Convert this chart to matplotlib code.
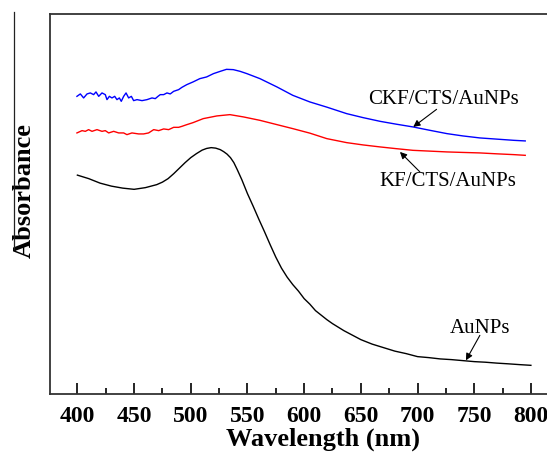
import matplotlib
matplotlib.use('Agg')
import matplotlib.pyplot as plt
from matplotlib.lines import Line2D
from matplotlib.ticker import MultipleLocator

plt.rcParams['font.family'] = ['Liberation Serif', 'DejaVu Serif']

# AuNPs (black)
wl_au = [400, 410, 420, 430, 440, 450, 460, 470, 475, 480, 485, 490, 495, 500, 505,
         510, 514, 518, 522, 526, 529, 532, 535, 538, 541, 545, 550, 555, 560, 565,
         570, 575, 580, 585, 590, 595, 600, 605, 610, 615, 620, 625, 630, 635, 640,
         650, 660, 670, 680, 690, 700, 710, 720, 730, 740, 750, 760, 770, 780, 790, 800]
abs_au = [2.185, 2.15, 2.105, 2.075, 2.055, 2.043, 2.06, 2.09, 2.115, 2.15, 2.2, 2.255,
          2.31, 2.36, 2.40, 2.435, 2.452, 2.46, 2.455, 2.44, 2.42, 2.395, 2.36, 2.31,
          2.24, 2.14, 2.00, 1.875, 1.745, 1.62, 1.49, 1.365, 1.255, 1.165, 1.09, 1.025,
          0.95, 0.895, 0.83, 0.785, 0.74, 0.70, 0.665, 0.63, 0.60, 0.54, 0.495, 0.46,
          0.425, 0.40, 0.37, 0.36, 0.347, 0.34, 0.33, 0.32, 0.314, 0.305, 0.298, 0.29,
          0.283]

# CKF/CTS/AuNPs (blue)
wl_ckf = [399.6, 402.6, 405.5, 408.5, 411.4, 414.3, 416.4, 418.8, 421.7, 424.6, 426.1,
          428.2, 430.5, 432.9, 434.9, 437, 438.7, 440.8, 442.9, 445.2, 447.6, 449.6,
          452.6, 457, 461.4, 465.8, 468.7, 471.1, 473.1, 476.1, 479, 481.9, 484.9, 489.3,
          492.2, 496.5, 502, 508, 514, 520, 526, 531.5, 537.5, 543.5, 549.5, 561, 576,
          590, 605, 620, 637.5, 652, 667, 681, 696, 711, 726, 740, 755, 770, 785, 795]
abs_ckf = [2.973, 2.997, 2.957, 2.997, 3.007, 2.99, 3.017, 2.973, 3.007, 2.99, 2.94,
           2.973, 2.957, 2.973, 2.94, 2.957, 2.923, 2.973, 3.007, 2.957, 2.973, 2.93,
           2.94, 2.93, 2.94, 2.957, 2.95, 2.973, 2.99, 2.99, 3.007, 2.997, 3.023, 3.04,
           3.063, 3.09, 3.117, 3.15, 3.167, 3.20, 3.223, 3.243, 3.24, 3.223, 3.20, 3.15,
           3.067, 2.983, 2.917, 2.865, 2.80, 2.76, 2.723, 2.695, 2.667, 2.633, 2.60,
           2.577, 2.557, 2.545, 2.533, 2.527]

# KF/CTS/AuNPs (red)
wl_kf = [399.6, 404.1, 407, 409.9, 412.9, 417.3, 421.7, 424.6, 427.6, 432, 436.4, 440.8,
         443.7, 448.1, 454, 458.4, 462.8, 467.3, 471.7, 476.1, 480.5, 484.9, 489.3, 492.2,
         496, 502, 511, 523, 534.5, 546.5, 561, 576, 590, 605, 620, 637.5, 652, 667, 681,
         696, 711, 726, 740, 755, 770, 785, 795]
abs_kf = [2.607, 2.63, 2.623, 2.64, 2.623, 2.64, 2.623, 2.63, 2.607, 2.623, 2.607, 2.607,
          2.59, 2.607, 2.597, 2.597, 2.607, 2.64, 2.63, 2.647, 2.64, 2.663, 2.663, 2.673,
          2.688, 2.71, 2.75, 2.777, 2.79, 2.767, 2.733, 2.69, 2.65, 2.605, 2.55, 2.51,
          2.487, 2.467, 2.45, 2.433, 2.425, 2.417, 2.412, 2.407, 2.398, 2.39, 2.383]

fig = plt.figure(figsize=(5.47, 4.56), dpi=100)
ax = fig.add_axes([0.0905, 0.1346, 0.9095, 0.8333])

ax.plot(wl_au, abs_au, color='black', lw=1.0)
ax.plot(wl_ckf, abs_ckf, color='#0000ff', lw=1.0)
ax.plot(wl_kf, abs_kf, color='#ff0000', lw=1.0)

ax.set_xlim(375.4, 814.2)
ax.set_ylim(0, 3.8)
ax.xaxis.set_major_locator(MultipleLocator(50))
ax.xaxis.set_minor_locator(MultipleLocator(25))
ax.set_yticks([])
ax.tick_params(axis='x', which='major', direction='in', length=8, width=1.2,
               labelsize=17, pad=8, colors='black')
ax.tick_params(axis='x', which='minor', direction='in', length=4.5, width=1.2)
for lab in ax.get_xticklabels():
    lab.set_fontweight('bold')
ax.spines['right'].set_visible(False)
for s in ['left', 'top', 'bottom']:
    ax.spines[s].set_color('#333333')
    ax.spines[s].set_linewidth(1.3)

xl = ax.set_xlabel('Wavelength (nm)', fontsize=19, fontweight='bold')
xl.set_va('center')
ax.xaxis.set_label_coords(0.55, -0.117)
yl = ax.set_ylabel('Absorbance', fontsize=19, fontweight='bold')
yl.set_va('center')
ax.yaxis.set_label_coords(-0.051, 0.536)

arrow = dict(arrowstyle='-|>', color='black', lw=0.8, mutation_scale=10,
             shrinkA=0, shrinkB=0)
ax.annotate('', xy=(696.2, 2.667), xytext=(716.8, 2.843), arrowprops=arrow)
ax.annotate('', xy=(684.5, 2.417), xytext=(702.1, 2.217), arrowprops=arrow)
ax.annotate('', xy=(742.7, 0.333), xytext=(755, 0.583), arrowprops=arrow)
ax.text(723.3, 2.95, 'CKF/CTS/AuNPs', fontsize=15, ha='center', va='center')
ax.text(727, 2.133, 'KF/CTS/AuNPs', fontsize=15, ha='center', va='center')
ax.text(755, 0.657, 'AuNPs', fontsize=15, ha='center', va='center')

# thin line at the far left of the original image
fig.add_artist(Line2D([14 / 547, 14 / 547], [1 - 13 / 456, 1 - 250 / 456],
                      color='#222222', lw=0.9))

fig.savefig('out.png', dpi=100)
